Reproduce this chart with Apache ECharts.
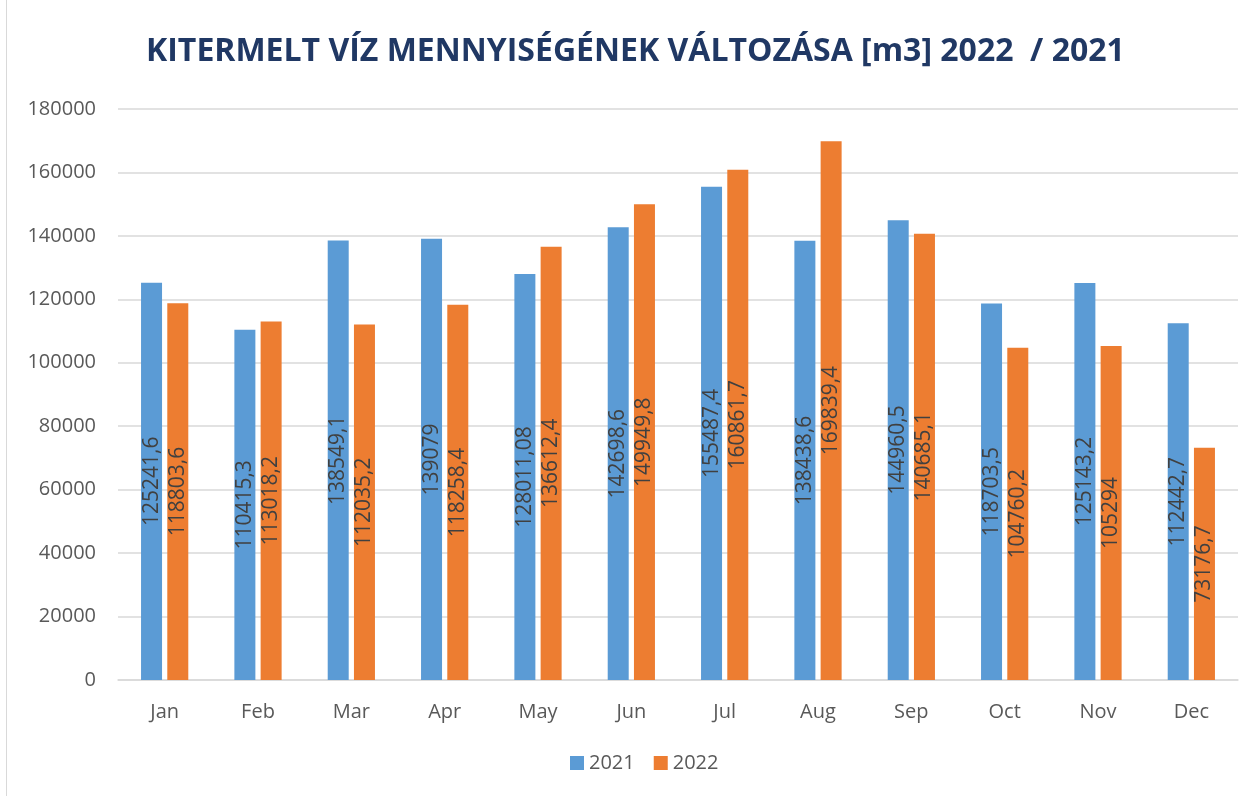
<!DOCTYPE html>
<html><head><meta charset="utf-8">
<script src="https://cdn.jsdelivr.net/npm/echarts@6/dist/echarts.min.js"></script>
<style>html,body{margin:0;padding:0;background:#fff}#c{position:absolute;left:0;top:0;width:1258px;height:796px}#b{position:absolute;left:6px;top:-2px;width:1260px;height:800px;border:1px solid #d9d9d9;box-sizing:border-box;pointer-events:none}</style>
</head><body><div id="c"></div><div id="b"></div>
<script>
const categories = ['Jan','Feb','Mar','Apr','May','Jun','Jul','Aug','Sep','Oct','Nov','Dec'];
const values2021 = [125241.6,110415.3,138549.1,139079,128011.08,142698.6,155487.4,138438.6,144960.5,118703.5,125143.2,112442.7];
const values2022 = [118803.6,113018.2,112035.2,118258.4,136612.4,149949.8,160861.7,169839.4,140685.1,104760.2,105294,73176.7];
const seriesNames = ['2021','2022'];
const titleText = 'KITERMELT VÍZ MENNYISÉGÉNEK VÁLTOZÁSA [m3] 2022  / 2021';

const chart = echarts.init(document.getElementById('c'));
const font = '"Open Sans", "Noto Sans", sans-serif';
const lbl = {
  show: true, position: 'inside', rotate: 90, color: '#404040', fontSize: 21, fontFamily: font,
  formatter: p => String(p.value).replace('.', ',')
};
chart.setOption({
  animation: false,
  textStyle: {fontFamily: font},
  title: {text: titleText, left: 141, top: 31,
    textStyle: {color: '#203864', fontSize: 32, fontWeight: 'bold', fontFamily: font}},
  grid: {left: 118, right: 20, top: 109, bottom: 116},
  legend: {bottom: 18, left: 565, itemWidth: 14, itemHeight: 14, itemGap: 19,
    textStyle: {color: '#595959', fontSize: 20, fontFamily: font}, icon: 'rect', data: seriesNames},
  xAxis: {type: 'category', data: categories,
    axisLine: {lineStyle: {color: '#d9d9d9', width: 1.5}}, axisTick: {show: false},
    axisLabel: {color: '#595959', fontSize: 20, margin: 22, fontFamily: font}},
  yAxis: {type: 'value', min: 0, max: 180000, interval: 20000,
    axisLine: {show: false}, axisTick: {show: false},
    splitLine: {lineStyle: {color: '#d9d9d9', width: 1.5}},
    axisLabel: {color: '#595959', fontSize: 20, margin: 22, fontFamily: font, formatter: v => String(v)}},
  series: [
    {name: seriesNames[0], type: 'bar', data: values2021, barWidth: 21, barGap: '25%',
      itemStyle: {color: '#5B9BD5'}, label: lbl},
    {name: seriesNames[1], type: 'bar', data: values2022, barWidth: 21,
      itemStyle: {color: '#ED7D31'}, label: lbl}
  ]
});
</script></body></html>
